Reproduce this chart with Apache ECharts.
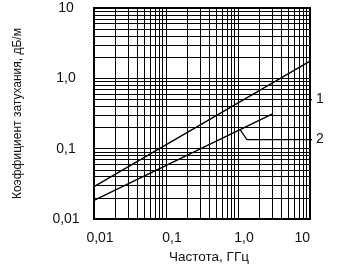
<!DOCTYPE html>
<html>
<head>
<meta charset="utf-8">
<script src="https://cdn.jsdelivr.net/npm/echarts@6/dist/echarts.min.js"></script>
<style>html,body{margin:0;padding:0;background:#fff}#c{width:344px;height:269px}</style>
</head>
<body>
<div id="c"></div>
<script>
// Curve 1
var line1Freq = [0.01, 10];
var line1Att = [0.029, 1.76];
// Curve 2
var line2Freq = [0.01, 2.97];
var line2Att = [0.0184, 0.31];
// Leader lines for curve labels
var leader1Freq = [10, 16.7];
var leader1Att = [0.5, 0.5];
var leader2Freq = [1.07, 1.33, 17.8];
var leader2Att = [0.187, 0.135, 0.135];
// Log-paper grid values
var gridFreqs = [0.02,0.03,0.04,0.05,0.06,0.07,0.08,0.09,0.1,0.2,0.3,0.4,0.5,0.6,0.7,0.8,0.9,1,2,3,4,5,6,7,8,9];
var gridAtts = [0.02,0.03,0.04,0.05,0.06,0.07,0.08,0.09,0.1,0.2,0.3,0.4,0.5,0.6,0.7,0.8,0.9,1,2,3,4,5,6,7,8,9];
// Tick labels
var xTickValues = [0.01, 0.1, 1, 10];
var xTickLabels = ['0,01', '0,1', '1,0', '10'];
var yTickValues = [0.01, 0.1, 1, 10];
var yTickLabels = ['0,01', '0,1', '1,0', '10'];

function zip(a, b) { return a.map(function (v, i) { return [v, b[i]]; }); }
function lookup(vals, labels, v) {
  for (var i = 0; i < vals.length; i++) {
    if (Math.abs(Math.log10(v) - Math.log10(vals[i])) < 1e-6) return labels[i];
  }
  return '';
}
var FONT = '"Liberation Sans", Arial, sans-serif';
var gridMarks = gridFreqs.map(function (v) { return { xAxis: v }; })
  .concat(gridAtts.map(function (v) { return { yAxis: v }; }));

var chart = echarts.init(document.getElementById('c'), null, { renderer: 'canvas' });
chart.setOption({
  animation: false,
  backgroundColor: '#fff',
  grid: { left: 94, right: 34, top: 8, bottom: 46, show: true, borderColor: '#000', borderWidth: 2, backgroundColor: 'transparent' },
  xAxis: {
    type: 'log', logBase: 10, min: 0.01, max: 10,
    name: 'Частота, ГГц', nameLocation: 'middle', nameGap: 26,
    nameTextStyle: { fontFamily: FONT, fontSize: 13.5, color: '#111', padding: [0, 0, 0, 14] },
    axisLine: { show: false }, axisTick: { show: false }, splitLine: { show: false },
    axisLabel: {
      fontFamily: FONT, fontSize: 14, color: '#111', margin: 12,
      padding: [0, 0, 0, 12], alignMaxLabel: 'right',
      formatter: function (v) { return lookup(xTickValues, xTickLabels, v); }
    }
  },
  yAxis: {
    type: 'log', logBase: 10, min: 0.01, max: 10,
    name: 'Коэффициент затухания, дБ/м', nameLocation: 'middle', nameGap: 70,
    nameTextStyle: { fontFamily: FONT, fontSize: 12, color: '#111', padding: [0, 0, 0, 0] },
    axisLine: { show: false }, axisTick: { show: false }, splitLine: { show: false },
    axisLabel: {
      fontFamily: FONT, fontSize: 14, color: '#111', margin: 28, align: 'center',
      formatter: function (v) { return lookup(yTickValues, yTickLabels, v); }
    }
  },
  series: [
    {
      type: 'line', data: zip(line1Freq, line1Att), symbol: 'none', silent: true,
      lineStyle: { color: '#000', width: 1.4 }, z: 3,
      markLine: {
        silent: true, symbol: ['none', 'none'], label: { show: false },
        lineStyle: { type: 'solid', color: '#000', width: 1 },
        data: gridMarks, z: 1
      }
    },
    {
      type: 'line', data: zip(line2Freq, line2Att), symbol: 'none', silent: true,
      lineStyle: { color: '#000', width: 1.4 }, z: 3
    },
    {
      type: 'line', data: zip(leader1Freq, leader1Att), symbol: 'none', silent: true, clip: false,
      lineStyle: { color: '#000', width: 1.2 }, z: 3,
      endLabel: { show: true, formatter: '1', distance: 4, fontFamily: FONT, fontSize: 14, color: '#111' }
    },
    {
      type: 'line', data: zip(leader2Freq, leader2Att), symbol: 'none', silent: true, clip: false,
      lineStyle: { color: '#000', width: 1.2 }, z: 3,
      endLabel: { show: true, formatter: '2', distance: 4, fontFamily: FONT, fontSize: 14, color: '#111' }
    }
  ]
});
</script>
</body>
</html>
